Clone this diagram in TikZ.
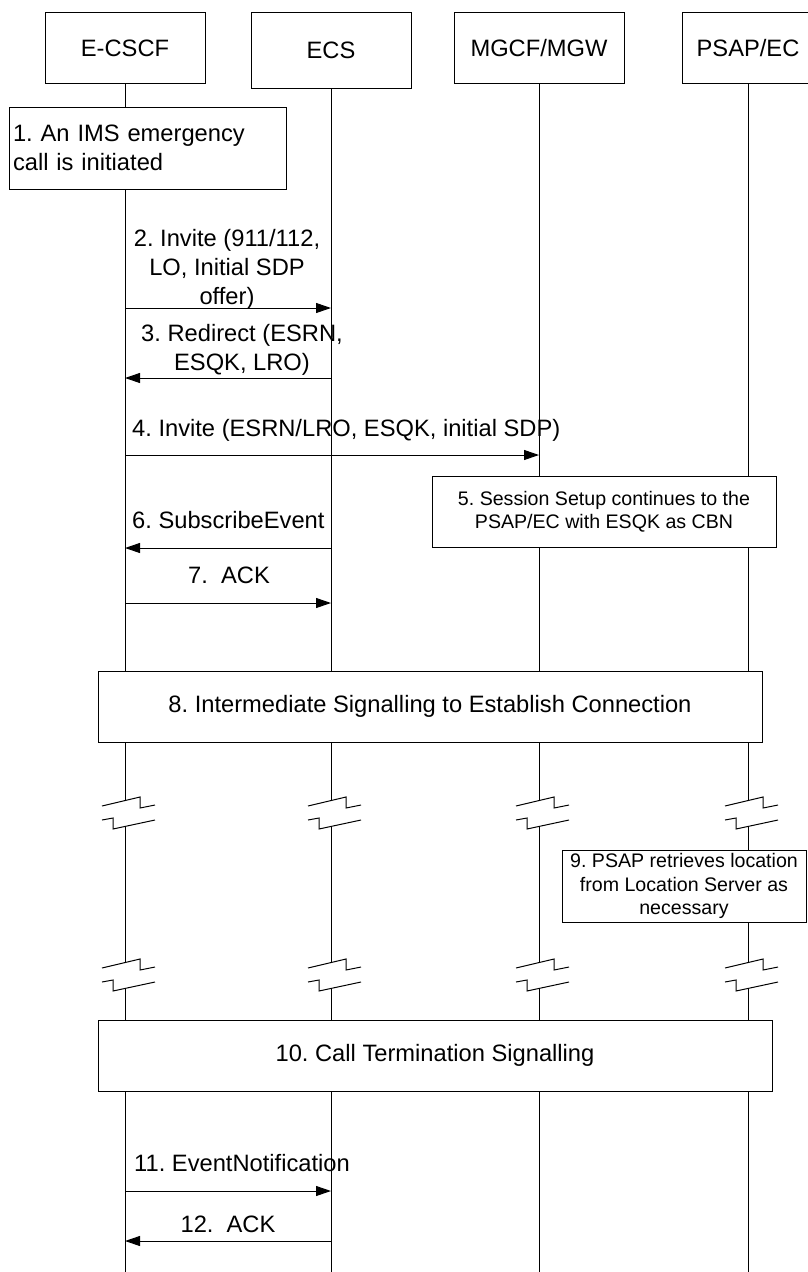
\documentclass[tikz,border=0pt]{standalone}
\usepackage{fontspec}
\setmainfont{Liberation Sans}
\usetikzlibrary{arrows.meta}
\frenchspacing
\begin{document}
\begin{tikzpicture}[x=1pt,y=-1pt,
  big/.style={font=\fontsize{23.7}{29}\selectfont},
  small/.style={font=\fontsize{19.6}{23.5}\selectfont},
  hdr/.style={draw, fill=white, line width=1pt, minimum height=71pt, inner sep=0pt, big,
              text height=17pt, text depth=0pt},
  msg/.style={line width=1pt, -{Triangle[length=15pt,width=10pt]}},
  life/.style={line width=1pt},
  brk/.style={line width=1pt, line join=miter},
  boxnode/.style={draw, fill=white, line width=1pt, inner sep=0pt},
  lbl/.style={inner sep=0pt, big, align=center}]
\useasboundingbox (0,0) rectangle (807,1272);
\fill[white] (0,0) rectangle (807,1272);

% header boxes
\node[hdr, minimum width=160pt] (ecscf) at (125,47.5) {E-CSCF};
\node[hdr, minimum width=160pt, minimum height=76pt] (ecs) at (331,50) {ECS};
\node[hdr, minimum width=170pt] (mgcf) at (539,47.5) {MGCF/MGW};
\node[hdr, minimum width=132pt] (psap) at (748,47.5) {PSAP/EC};

% lifelines with break marks
\foreach \n/\x in {ecscf/125, ecs/331, mgcf/539, psap/748} {
  \coordinate (\n-b1t) at (\x, 800.6);
  \coordinate (\n-b1b) at (\x, 826.4);
  \coordinate (\n-b2t) at (\x, 962.6);
  \coordinate (\n-b2b) at (\x, 988.4);
  \coordinate (\n-end) at (\x, 1272);
  \draw[life] (\n.south) -- (\n-b1t);
  \draw[life] (\n-b1b) -- (\n-b2t);
  \draw[life] (\n-b2b) -- (\n-end);
  \foreach \c in {813, 975} {
    \draw[brk, shift={(\x,\c)}] (-23,-7) -- (15,-16) -- (15,-5) -- (30,-8)
                               (-23,7) -- (-12,5) -- (-12,16) -- (30,7);
  }
}

% step boxes
\node[boxnode, big, minimum width=277pt, minimum height=82pt, text width=269pt,
      inner xsep=4pt, align=left] (s1) at (147.5,148)
  {1. An IMS emergency\\call is initiated};
\node[boxnode, small, minimum width=344pt, minimum height=71pt, align=center] (s5) at (604,511.5)
  {5. Session Setup continues to the\\PSAP/EC with ESQK as CBN};
\node[boxnode, big, minimum width=664pt, minimum height=71pt] (s8) at (430,706.5)
  {8. Intermediate Signalling to Establish Connection};
\node[boxnode, small, minimum width=244pt, minimum height=72pt, align=center] (s9) at (684,886)
  {9. PSAP retrieves location\\from Location Server as\\necessary};
\node[boxnode, big, minimum width=674pt, minimum height=71pt] (s10) at (435,1055.5)
  {10. Call Termination Signalling};

% message end points
\coordinate (m2a) at (125,308);  \coordinate (m2b) at (331,308);
\coordinate (m3a) at (331,378);  \coordinate (m3b) at (125,378);
\coordinate (m4a) at (125,455);  \coordinate (m4b) at (539,455);
\coordinate (m6a) at (331,548);  \coordinate (m6b) at (125,548);
\coordinate (m7a) at (125,603);  \coordinate (m7b) at (331,603);
\coordinate (m11a) at (125,1191); \coordinate (m11b) at (331,1191);
\coordinate (m12a) at (331,1241); \coordinate (m12b) at (125,1241);

\draw[msg] (m2a) -- (m2b);
\draw[msg] (m3a) -- (m3b);
\draw[msg] (m4a) -- (m4b);
\draw[msg] (m6a) -- (m6b);
\draw[msg] (m7a) -- (m7b);
\draw[msg] (m11a) -- (m11b);
\draw[msg] (m12a) -- (m12b);

% message labels
\node[lbl] (t2) at (227,269) {2. Invite (911/112,\\LO, Initial SDP\\offer)};
\node[lbl] (t3) at (242,350) {3. Redirect (ESRN,\\ESQK, LRO)};
\node[lbl, anchor=west] (t4) at (132,430) {4. Invite (ESRN/LRO, ESQK, initial SDP)};
\node[lbl, anchor=west] (t6) at (132,520) {6. SubscribeEvent};
\node[lbl] (t7) at (229,575) {7.\ \ ACK};
\node[lbl, anchor=west] (t11) at (134,1163) {11. EventNotification};
\node[lbl] (t12) at (228,1224) {12.\ \ ACK};
\end{tikzpicture}
\end{document}
